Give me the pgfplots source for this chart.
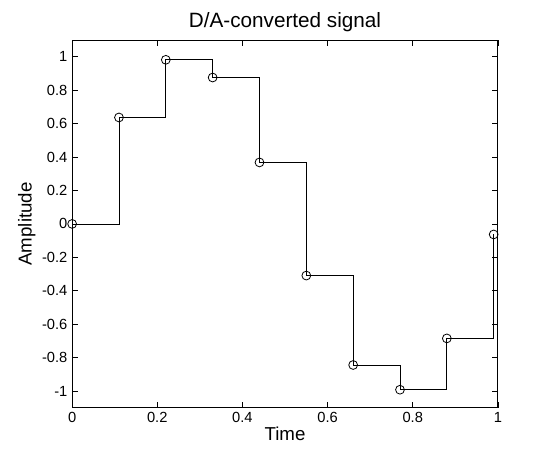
\documentclass[border=0pt]{standalone}
\usepackage{fontspec}
\setmainfont{Liberation Sans}
\usepackage{pgfplots}
\pgfplotsset{compat=1.18}
\begin{document}
\begin{tikzpicture}
\begin{axis}[
  scale only axis,
  width=318.75pt, height=275.25pt,
  xmin=0, xmax=1, ymin=-1.1, ymax=1.1,
  xtick={0,0.2,0.4,0.6,0.8,1},
  ytick={-1,-0.8,-0.6,-0.4,-0.2,0,0.2,0.4,0.6,0.8,1},
  tick align=inside,
  major tick length=4.5pt,
  axis line style={line width=0.8pt},
  tick style={line width=0.5pt, black},
  /pgf/number format/assume math mode=true,
  tick label style={font=\fontsize{11}{13}\selectfont},
  label style={font=\fontsize{14}{16}\selectfont},
  title style={font=\fontsize{15.5}{18}\selectfont, yshift=-3pt},
  title={D/A-converted signal},
  xlabel={Time},
  ylabel={Amplitude},
  xlabel style={yshift=4pt},
  ylabel style={yshift=-2pt},
]
\addplot[const plot mark left, black, line width=0.6pt, mark=o, mark size=3.3pt,
  mark options={line width=0.6pt}]
coordinates {
(0,0)(0.11,0.637)(0.22,0.982)(0.33,0.876)(0.44,0.368)(0.55,-0.309)
(0.66,-0.844)(0.77,-0.992)(0.88,-0.685)(0.99,-0.063)};
\end{axis}
\pgfresetboundingbox
\path[use as bounding box] (-54pt,-36pt) rectangle (348pt,305.25pt);
\end{tikzpicture}
\end{document}
